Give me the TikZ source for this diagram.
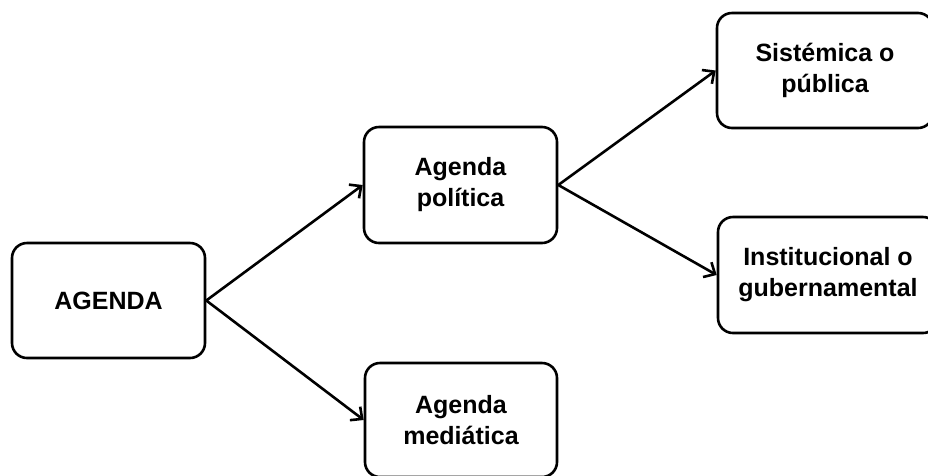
\documentclass[tikz,border=0pt]{standalone}
\usepackage{fontspec}
\setmainfont{Liberation Sans}
\usetikzlibrary{arrows.meta}
\begin{document}
\begin{tikzpicture}[x=1pt,y=-1pt,
  box/.style={draw, line width=2.6pt, rounded corners=15pt, align=center,
    inner sep=0pt, font=\bfseries\fontsize{25}{31}\selectfont},
  arr/.style={line width=2.6pt, -{Straight Barb[length=9pt,width=17pt,line width=2.6pt]}}]
\clip (0,0) rectangle (928,475);
\useasboundingbox (0,0) rectangle (928,475);
\node[box, minimum width=193pt, minimum height=115pt] (agenda) at (108.5,300.5) {AGENDA};
\node[box, minimum width=193pt, minimum height=116pt] (pol) at (460.5,185) {Agenda\\política};
\node[box, minimum width=192pt, minimum height=114pt] (med) at (461,420) {Agenda\\mediática};
\node[box, minimum width=216pt, minimum height=115pt] (sis) at (825,70.5) {Sistémica o\\pública};
\node[box, minimum width=220pt, minimum height=116pt] (inst) at (828,275) {Institucional o\\gubernamental};
\draw[arr] (agenda.east) -- (pol.west);
\draw[arr] (agenda.east) -- (med.west);
\draw[arr] (pol.east) -- (sis.west);
\draw[arr] (pol.east) -- (inst.west);
\end{tikzpicture}
\end{document}
